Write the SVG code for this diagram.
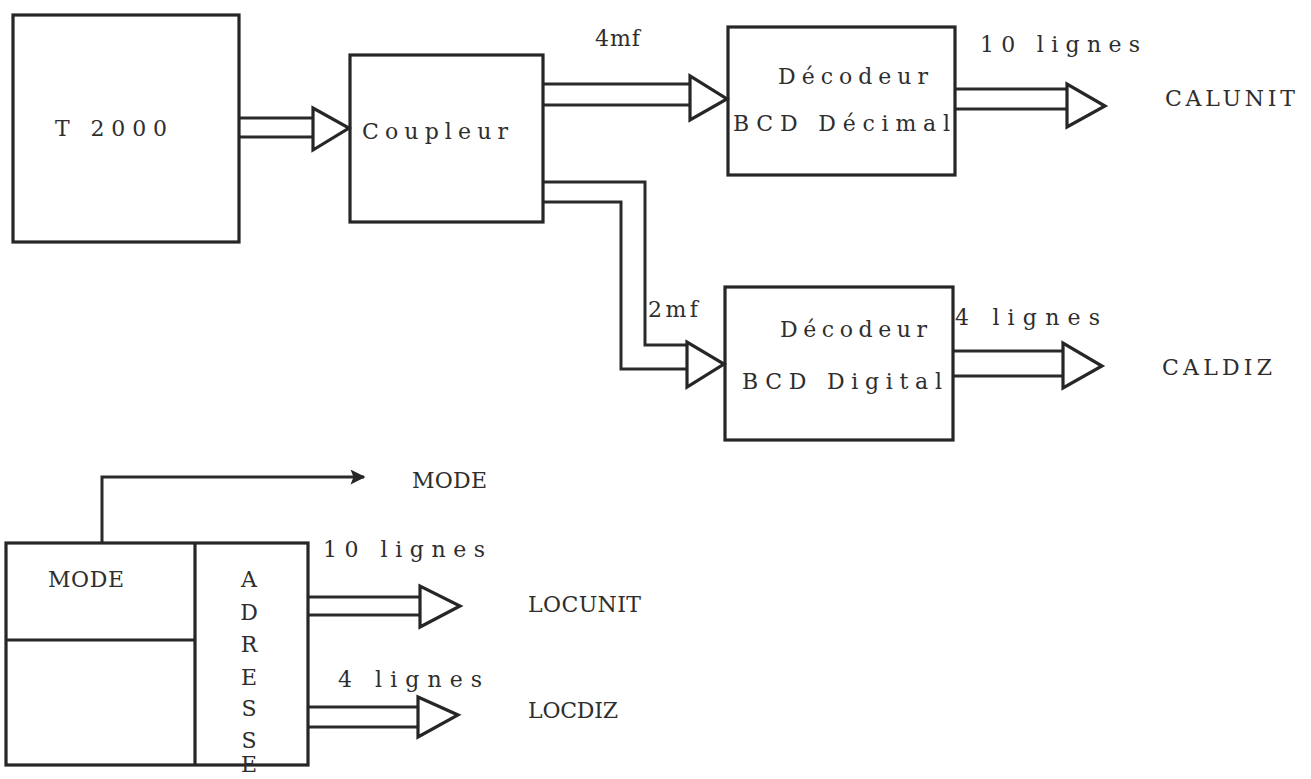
<svg xmlns="http://www.w3.org/2000/svg" width="1311" height="779" viewBox="0 0 1311 779">
<style>
.box{fill:none;stroke:#262626;stroke-width:3.2}
.ln{fill:none;stroke:#2a2a2a;stroke-width:3}
.tri{fill:#fff;stroke:#262626;stroke-width:3.2;stroke-linejoin:miter}
.t{font-family:"DejaVu Serif","Liberation Serif",serif;font-size:22px;fill:#2e2e2e}
</style>
<defs>
<marker id="dot" viewBox="0 0 10 10" refX="9" refY="5" markerWidth="20" markerHeight="15" orient="auto" markerUnits="userSpaceOnUse">
<path d="M0,0 L10,5 L0,10 L2,5 z" fill="#262626"/>
</marker>
</defs>
<rect width="1311" height="779" fill="#fff"/>

<g id="connectors">
  <g id="bus-t2000-coupleur">
    <path class="ln" d="M239,118 H313 M239,137 H313"/>
    <polygon class="tri" points="313,108 313,150 349,128"/>
  </g>
  <g id="bus-coupleur-decimal">
    <path class="ln" d="M543,84 H690 M543,105 H690"/>
    <polygon class="tri" points="690,76 690,120 727,99"/>
  </g>
  <g id="bus-coupleur-digital">
    <path class="ln" d="M543,182 H645 V345 H687 M543,202 H621 V369 H687"/>
    <polygon class="tri" points="687,342 687,387 724,364"/>
  </g>
  <g id="bus-decimal-calunit">
    <path class="ln" d="M955,89 H1067 M955,109 H1067"/>
    <polygon class="tri" points="1067,84 1067,127 1105,106"/>
  </g>
  <g id="bus-digital-caldiz">
    <path class="ln" d="M953,351 H1063 M953,376 H1063"/>
    <polygon class="tri" points="1063,343 1063,388 1102,366"/>
  </g>
  <g id="mode-line">
    <path class="ln" d="M102,543 V477 H364" marker-end="url(#dot)"/>
  </g>
  <g id="bus-locunit">
    <path class="ln" d="M308,597 H420 M308,615 H420"/>
    <polygon class="tri" points="420,586 420,627 460,606"/>
  </g>
  <g id="bus-locdiz">
    <path class="ln" d="M308,707 H418 M308,727 H418"/>
    <polygon class="tri" points="418,697 418,737 458,715"/>
  </g>
</g>

<g id="t2000">
  <rect class="box" x="13" y="15" width="226" height="227"/>
  <text class="t" x="55" y="136" textLength="112" lengthAdjust="spacing">T 2000</text>
</g>

<g id="coupleur">
  <rect class="box" x="350" y="55" width="193" height="167"/>
  <text class="t" x="362" y="139" textLength="146" lengthAdjust="spacing">Coupleur</text>
</g>

<g id="label-4mf">
  <text class="t" x="595" y="46" textLength="45" lengthAdjust="spacing">4mf</text>
</g>
<g id="label-2mf">
  <text class="t" x="648" y="317" textLength="50" lengthAdjust="spacing">2mf</text>
</g>

<g id="decodeur-decimal">
  <rect class="box" x="728" y="27" width="227" height="148"/>
  <text class="t" x="778" y="84" textLength="150" lengthAdjust="spacing">Décodeur</text>
  <text class="t" x="733" y="131" textLength="217" lengthAdjust="spacing">BCD Décimal</text>
</g>
<g id="label-10-lignes-cal">
  <text class="t" x="980" y="52" textLength="160" lengthAdjust="spacing">10 lignes</text>
</g>
<g id="calunit">
  <text class="t" x="1165" y="106" textLength="130" lengthAdjust="spacing">CALUNIT</text>
</g>

<g id="decodeur-digital">
  <rect class="box" x="725" y="287" width="228" height="153"/>
  <text class="t" x="780" y="337" textLength="147" lengthAdjust="spacing">Décodeur</text>
  <text class="t" x="742" y="389" textLength="200" lengthAdjust="spacing">BCD Digital</text>
</g>
<g id="label-4-lignes-cal">
  <text class="t" x="955" y="325" textLength="145" lengthAdjust="spacing">4 lignes</text>
</g>
<g id="caldiz">
  <text class="t" x="1162" y="375" textLength="110" lengthAdjust="spacing">CALDIZ</text>
</g>

<g id="mode-out">
  <text class="t" x="412" y="488" textLength="75" lengthAdjust="spacing">MODE</text>
</g>

<g id="registre">
  <rect class="box" x="6" y="543" width="302" height="222"/>
  <path class="box" d="M195,543 V765 M6,640 H195"/>
  <text class="t" x="48" y="587" textLength="76" lengthAdjust="spacing">MODE</text>
  <g class="t" text-anchor="middle">
    <text x="249" y="587">A</text>
    <text x="249" y="620">D</text>
    <text x="249" y="652">R</text>
    <text x="249" y="685">E</text>
    <text x="249" y="716">S</text>
    <text x="249" y="748">S</text>
    <text x="249" y="772">E</text>
  </g>
</g>
<g id="label-10-lignes-loc">
  <text class="t" x="323" y="557" textLength="162" lengthAdjust="spacing">10 lignes</text>
</g>
<g id="label-4-lignes-loc">
  <text class="t" x="338" y="687" textLength="144" lengthAdjust="spacing">4 lignes</text>
</g>
<g id="locunit">
  <text class="t" x="528" y="612" textLength="113" lengthAdjust="spacing">LOCUNIT</text>
</g>
<g id="locdiz">
  <text class="t" x="528" y="718" textLength="90" lengthAdjust="spacing">LOCDIZ</text>
</g>
</svg>
